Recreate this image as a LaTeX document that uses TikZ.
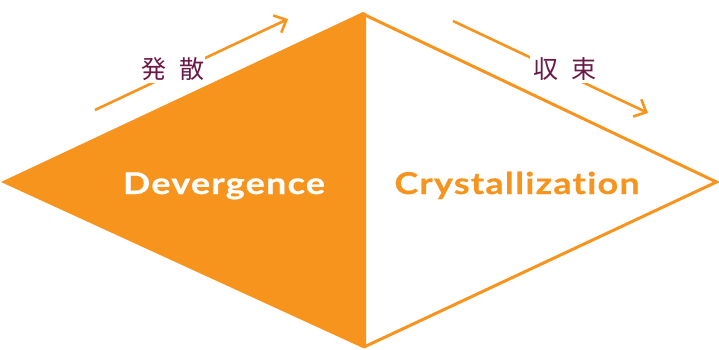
\documentclass[tikz,border=0pt]{standalone}
\usepackage{fontspec}
\setmainfont{Lato}
\newfontfamily\wideword[FakeStretch=1.2,LetterSpace=4,Ligatures=NoCommon,FakeBold=0.6]{Lato Bold}
\newfontfamily\cjk{Noto Sans CJK JP}
\usetikzlibrary{arrows.meta}
\definecolor{orng}{HTML}{F7941E}
\definecolor{plum}{HTML}{6B1A47}
\tikzset{
  flow/.style={draw=orng,line width=2.6pt,-{Straight Barb[length=10pt,width=19pt,line width=2.6pt]}},
  jplabel/.style={fill=white,text=plum,font=\cjk\fontsize{25}{25}\selectfont,inner sep=0pt,minimum height=28pt},
  bigword/.style={font=\wideword\fontsize{30}{30}\selectfont,anchor=base,inner sep=0pt}
}
\begin{document}
\begin{tikzpicture}[x=1pt,y=-1pt]
\useasboundingbox (0,0) rectangle (719,349);
% left filled triangle
\fill[orng] (1,182) -- (363,12) -- (366,13) -- (366,348) -- (363,348) -- cycle;
% right outlined triangle
\draw[orng,line width=3pt,line join=miter] (364,14.5) -- (716.5,182) -- (364,347);
% arrows
\coordinate (a1s) at (95,110);
\coordinate (a1e) at (288,19);
\coordinate (a2s) at (453,21);
\coordinate (a2e) at (648,113);
\draw[flow] (a1s) -- (a1e);
\draw[flow] (a2s) -- (a2e);
% labels
\node[jplabel,minimum width=64pt] (div) at (173,69) {発\hspace{13pt}散};
\node[jplabel,minimum width=70pt] (conv) at (565,69) {収\hspace{13pt}束};
\node[bigword,text=white] (dev) at (224,194) {Devergence};
\node[bigword,text=orng] (cry) at (517,194) {Crystallization};
\end{tikzpicture}
\end{document}
